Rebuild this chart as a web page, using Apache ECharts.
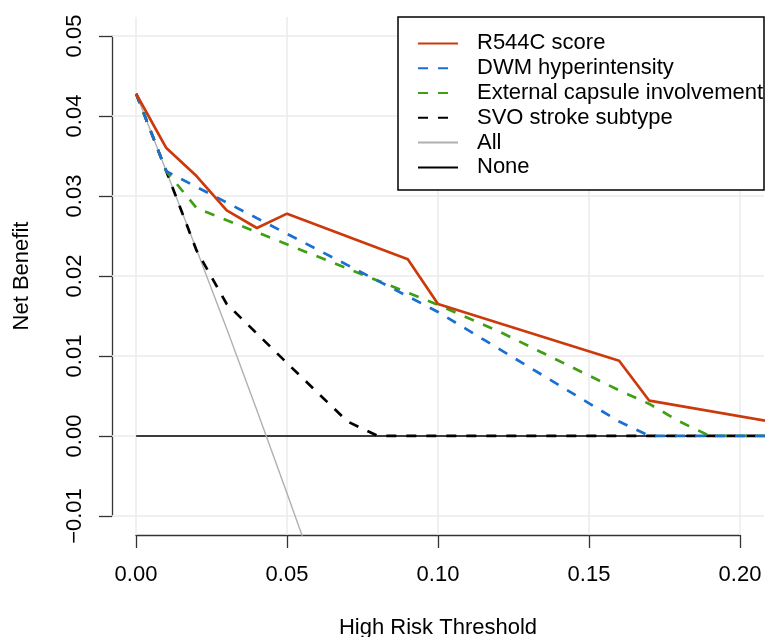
<!DOCTYPE html>
<html>
<head>
<meta charset="utf-8">
<script src="https://cdn.jsdelivr.net/npm/echarts@6/dist/echarts.min.js"></script>
<style>
  html, body { margin: 0; padding: 0; background: #fff; }
  #chart { width: 765px; height: 637px; }
</style>
</head>
<body>
<div id="chart"></div>
<script>
// decision curves, [threshold] and [net benefit]
var r544c_x = [0, 0.01, 0.02, 0.03, 0.04, 0.05, 0.09, 0.10, 0.16, 0.17, 0.21];
var r544c_y = [0.0428, 0.0360, 0.0325, 0.0282, 0.0260, 0.0278, 0.0221, 0.0165, 0.0094, 0.0044, 0.0018];

var dwm_x = [0, 0.01, 0.10, 0.16, 0.17, 0.21];
var dwm_y = [0.0428, 0.0331, 0.0155, 0.0018, 0.0, 0.0];

var ext_x = [0, 0.01, 0.02, 0.10, 0.12, 0.14, 0.16, 0.17, 0.18, 0.19, 0.21];
var ext_y = [0.0428, 0.0331, 0.0285, 0.0164, 0.0131, 0.0094, 0.0057, 0.0040, 0.0018, 0.0, 0.0];

var svo_x = [0, 0.01, 0.02, 0.03, 0.05, 0.07, 0.08, 0.21];
var svo_y = [0.0428, 0.0331, 0.0232, 0.0165, 0.0091, 0.0018, 0.0, 0.0];

var all_x = [0, 0.01, 0.02, 0.03, 0.04, 0.05, 0.06];
var all_y = [0.0428, 0.0331, 0.0233, 0.0134, 0.0032, -0.0072, -0.0178];

var none_x = [0, 0.21];
var none_y = [0, 0];

var x_ticks = [0, 0.05, 0.10, 0.15, 0.20];
var y_ticks = [-0.01, 0, 0.01, 0.02, 0.03, 0.04, 0.05];

var names = ['R544C score', 'DWM hyperintensity', 'External capsule involvement',
             'SVO stroke subtype', 'All', 'None'];

function pairs(xs, ys) {
    return xs.map(function (x, i) { return [x, ys[i]]; });
}
function fmt(v) {
    var s = Math.abs(v).toFixed(2);
    return v < -1e-9 ? '\u2212' + s : s;
}

var font = "'Liberation Sans', Arial, sans-serif";
var chart = echarts.init(document.getElementById('chart'), null, {renderer: 'canvas'});

var gridMarks = x_ticks.map(function (v) { return {xAxis: v}; })
    .concat(y_ticks.map(function (v) { return {yAxis: v}; }));

var option = {
    animation: false,
    backgroundColor: '#ffffff',
    textStyle: {fontFamily: font},
    grid: [
        // plot region
        {left: 112, right: 1, top: 17, bottom: 102, outerBoundsMode: 'none', containLabel: false},
        // tick range, used for the axes only
        {left: 136, right: 25, top: 36, bottom: 121, outerBoundsMode: 'none', containLabel: false}
    ],
    xAxis: [
        {gridIndex: 0, type: 'value', min: -0.008, max: 0.208, show: false},
        {
            gridIndex: 1, type: 'value', min: 0, max: 0.2, interval: 0.05,
            offset: 19,
            name: 'High Risk Threshold', nameLocation: 'middle', nameGap: 82,
            nameTextStyle: {fontSize: 22, color: '#000', fontFamily: font},
            axisLine: {show: true, onZero: false, lineStyle: {color: '#333', width: 1.3}},
            axisTick: {show: true, inside: false, length: 13, lineStyle: {color: '#333', width: 1.3}},
            axisLabel: {fontSize: 22, color: '#000', margin: 29, formatter: fmt, fontFamily: font},
            splitLine: {show: false}
        }
    ],
    yAxis: [
        {gridIndex: 0, type: 'value', min: -0.0124, max: 0.0524, show: false},
        {
            gridIndex: 1, type: 'value', min: -0.01, max: 0.05, interval: 0.01,
            offset: 24,
            name: 'Net Benefit', nameLocation: 'middle', nameGap: 79, nameRotate: 90,
            nameTextStyle: {fontSize: 22, color: '#000', fontFamily: font},
            axisLine: {show: true, onZero: false, lineStyle: {color: '#333', width: 1.3}},
            axisTick: {show: true, inside: false, length: 13, lineStyle: {color: '#333', width: 1.3}},
            axisLabel: {fontSize: 22, color: '#000', margin: 26, rotate: 90, formatter: fmt, fontFamily: font},
            splitLine: {show: false}
        }
    ],
    legend: {
        data: names,
        orient: 'vertical',
        left: 417,
        top: 31,
        padding: 0,
        itemWidth: 40,
        itemHeight: 2,
        itemGap: 0,
        z: 20,
        itemStyle: {opacity: 0, color: 'rgba(0,0,0,0)', borderWidth: 0},
        textStyle: {fontSize: 22, color: '#000', lineHeight: 24.8, padding: [0, 0, 0, 14], fontFamily: font},
        selectedMode: false
    },
    graphic: [{
        type: 'rect',
        shape: {x: 398, y: 17, width: 366, height: 173},
        style: {fill: '#fff', stroke: '#000', lineWidth: 1.5},
        z: 10
    }],
    series: [
        {
            name: 'grid',
            type: 'line',
            xAxisIndex: 0, yAxisIndex: 0,
            data: [],
            z: 1,
            markLine: {
                silent: true,
                z: 1,
                symbol: ['none', 'none'],
                label: {show: false},
                lineStyle: {color: '#ebebeb', width: 1.5, type: 'solid'},
                data: gridMarks
            }
        },
        {
            name: 'None', type: 'line', xAxisIndex: 0, yAxisIndex: 0, z: 2,
            symbol: 'none', data: pairs(none_x, none_y),
            lineStyle: {color: '#000', width: 1.5}, itemStyle: {color: '#000'}
        },
        {
            name: 'All', type: 'line', xAxisIndex: 0, yAxisIndex: 0, z: 3,
            symbol: 'none', data: pairs(all_x, all_y),
            lineStyle: {color: '#b0b0b0', width: 1.4}, itemStyle: {color: '#b0b0b0'}
        },
        {
            name: 'SVO stroke subtype', type: 'line', xAxisIndex: 0, yAxisIndex: 0, z: 4,
            symbol: 'none', data: pairs(svo_x, svo_y),
            lineStyle: {color: '#000', width: 2.7, type: [10, 10]}, itemStyle: {color: '#000'}
        },
        {
            name: 'External capsule involvement', type: 'line', xAxisIndex: 0, yAxisIndex: 0, z: 5,
            symbol: 'none', data: pairs(ext_x, ext_y),
            lineStyle: {color: '#3f9f12', width: 2.7, type: [10, 10]}, itemStyle: {color: '#3f9f12'}
        },
        {
            name: 'DWM hyperintensity', type: 'line', xAxisIndex: 0, yAxisIndex: 0, z: 6,
            symbol: 'none', data: pairs(dwm_x, dwm_y),
            lineStyle: {color: '#1a6fd0', width: 2.7, type: [10, 10]}, itemStyle: {color: '#1a6fd0'}
        },
        {
            name: 'R544C score', type: 'line', xAxisIndex: 0, yAxisIndex: 0, z: 7,
            symbol: 'none', data: pairs(r544c_x, r544c_y),
            lineStyle: {color: '#cc3a0c', width: 2.7}, itemStyle: {color: '#cc3a0c'}
        }
    ]
};

chart.setOption(option);
</script>
</body>
</html>
